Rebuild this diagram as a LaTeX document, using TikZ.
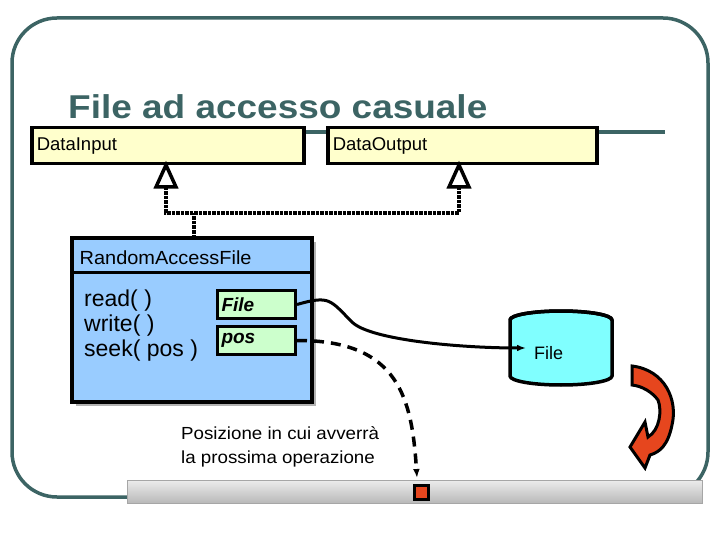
\documentclass[tikz,border=0pt]{standalone}
\usepackage{fontspec}
\setmainfont{Liberation Sans}
\usetikzlibrary{arrows.meta}

\definecolor{frame}{RGB}{60,100,100}
\definecolor{ifacefill}{RGB}{255,255,204}
\definecolor{classfill}{RGB}{153,204,255}
\definecolor{fieldfill}{RGB}{204,255,204}
\definecolor{diskfill}{RGB}{128,255,255}
\definecolor{arrowred}{RGB}{230,70,30}

\tikzset{
    iface/.style={draw,line width=3.5pt,fill=ifacefill,minimum width=272pt,minimum height=36pt,
        text width=262pt,align=left,font=\fontsize{18.5}{20}\selectfont,anchor=north west,
        inner sep=5pt,text height=17pt,text depth=8pt},
    field/.style={draw,line width=3pt,fill=fieldfill,minimum width=78pt,minimum height=28pt,
        text width=70pt,align=left,font=\fontsize{19}{21}\selectfont\bfseries\itshape,anchor=north west},
    realize/.style={line width=3.5pt,densely dotted},
}

\begin{document}
\begin{tikzpicture}[x=1pt,y=-1pt]
    \useasboundingbox (0,0) rectangle (720,540);

    % frame
    \draw[frame,line width=3.5pt,rounded corners=45pt] (130,497) -- (12,497) -- (12,18) -- (708,18) -- (708,497) -- (690,497);
    \node[frame,font=\fontsize{33}{35}\selectfont\bfseries,anchor=base west,inner sep=0pt,xscale=1.12] (title) at (68,119) {File ad accesso casuale};
    \draw[frame,line width=4pt] (295,132) -- (665,132);

    % interfaces
    \node[iface] (din) at (30,126) {DataInput};
    \node[iface,minimum width=269pt,text width=259pt] (dout) at (326,126) {DataOutput};

    % class
    \fill[gray!60] (76,242) rectangle (316,406);
    \draw[line width=3.5pt,fill=classfill] (72,238) rectangle (312,402);
    \draw[line width=3pt] (72,272) -- (312,272);
    \node[anchor=west,font=\fontsize{19}{21}\selectfont,xscale=1.05] (raf) at (76,258) {RandomAccessFile};
    \node[anchor=north west,align=left,font=\fontsize{23}{25}\selectfont,inner sep=0pt] (ops) at (84,290)
        {read( )\\write( )\\seek( pos )};
    \node[field] (ffile) at (216,289) {File};
    \node[field] (fpos) at (216,325) {pos};

    % realization
    \coordinate (j) at (194,213);
    \draw[realize] (194,238) -- (j);
    \draw[realize] (166,187) -- (166,213) -- (459,213) -- (459,187);
    \foreach \x in {166,459} {
        \draw[line width=3.5pt,fill=white] (\x,165) -- (\x-10,187) -- (\x+10,187) -- cycle;
    }

    % disk
    \draw[line width=3.5pt,fill=diskfill] (510,320) -- (510,376) arc[start angle=180,end angle=360,x radius=51pt,y radius=9pt]
        -- (612,320) arc[start angle=0,end angle=180,x radius=51pt,y radius=9pt] -- cycle;
    \draw[line width=3.5pt] (510,320) arc[start angle=180,end angle=360,x radius=51pt,y radius=-9pt];
    \node[anchor=west,font=\fontsize{18}{20}\selectfont,inner sep=0pt] (disk) at (534,353) {File};
    \coordinate (diskin) at (526,348);
    \draw[line width=3pt,-{Latex[length=9pt]}] (ffile.east) .. controls (330,295) and (330,300) .. (352,322)
        .. controls (370,340) and (460,348) .. (diskin);

    % pointer
    \coordinate (mark) at (417,478);
    \draw[line width=3.5pt,dash pattern=on 10pt off 7pt,-{Latex[length=9pt]}] (fpos.east) .. controls (400,340) and (412,400) .. (mark);
    \node[anchor=north west,align=left,font=\fontsize{17.5}{24}\selectfont,inner sep=0pt,xscale=1.07] (note) at (181,426)
        {Posizione in cui avverrà\\la prossima operazione};

    % bar
    \shade[top color=gray!15,bottom color=gray!55] (127,480) rectangle (702,503);
    \draw[gray!70] (127,480) rectangle (702,503);
    \draw[line width=3pt,fill=arrowred] (414,485) rectangle (428,499);

    % red arrow
    \draw[line width=3pt,fill=arrowred] (632,366) .. controls (665,370) and (678,400) .. (672,425)
        .. controls (668,445) and (660,452) .. (650,455) -- (645,468) -- (630,447) -- (645,422) -- (648,437)
        .. controls (660,430) and (662,410) .. (658,400)
        .. controls (652,392) and (642,386) .. (632,385) -- cycle;
\end{tikzpicture}
\end{document}
